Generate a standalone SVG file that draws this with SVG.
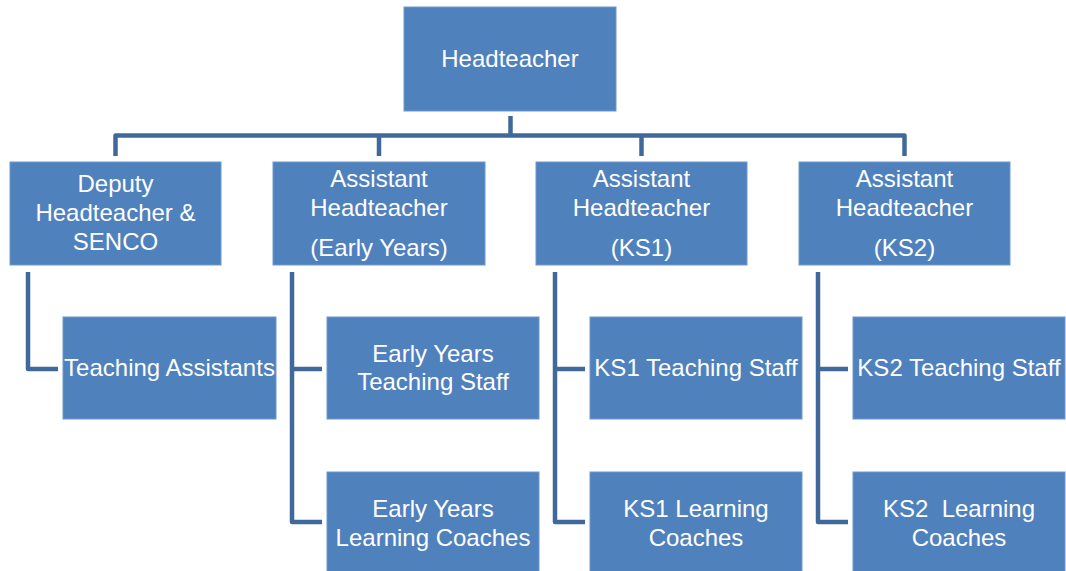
<svg xmlns="http://www.w3.org/2000/svg" width="1066" height="571" viewBox="0 0 1066 571">
<style>
.box{fill:#4F81BD;stroke:#6E97CB;stroke-width:1}
.t{font-family:"Liberation Sans",Arial,sans-serif;font-size:24px;fill:#FFFFFF;text-anchor:middle}
.c{fill:none;stroke:#40699B;stroke-width:4.5;stroke-linejoin:round}
</style>
<rect width="1066" height="571" fill="#FFFFFF"/>
<g id="connectors">
<path class="c" d="M510.5 116V135.5M115.5 156V135.5H904.5V156M379 135.5V156M641.5 135.5V156"/>
<path class="c" d="M28 272V369H58"/>
<path class="c" d="M292 272V522H322M292 369H322"/>
<path class="c" d="M555 272V522H585M555 369H585"/>
<path class="c" d="M818 272V522H848M818 369H848"/>
</g>
<g id="headteacher"><rect class="box" x="404" y="7" width="212" height="104"/><text class="t" x="510" y="67">Headteacher</text></g>
<g id="deputy"><rect class="box" x="10" y="162" width="211" height="103"/><text class="t" x="115.5" y="192">Deputy</text><text class="t" x="115.5" y="221">Headteacher &amp;</text><text class="t" x="115.5" y="250">SENCO</text></g>
<g id="ah-early-years"><rect class="box" x="273" y="162" width="212" height="103"/><text class="t" x="379" y="187">Assistant</text><text class="t" x="379" y="216">Headteacher</text><text class="t" x="379" y="256">(Early Years)</text></g>
<g id="ah-ks1"><rect class="box" x="536" y="162" width="211" height="103"/><text class="t" x="641.5" y="187">Assistant</text><text class="t" x="641.5" y="216">Headteacher</text><text class="t" x="641.5" y="256">(KS1)</text></g>
<g id="ah-ks2"><rect class="box" x="799" y="162" width="211" height="103"/><text class="t" x="904.5" y="187">Assistant</text><text class="t" x="904.5" y="216">Headteacher</text><text class="t" x="904.5" y="256">(KS2)</text></g>
<g id="teaching-assistants"><rect class="box" x="63" y="317" width="213" height="102"/><text class="t" x="169.5" y="376">Teaching Assistants</text></g>
<g id="ey-teaching-staff"><rect class="box" x="327" y="317" width="212" height="102"/><text class="t" x="433" y="362">Early Years</text><text class="t" x="433" y="390">Teaching Staff</text></g>
<g id="ks1-teaching-staff"><rect class="box" x="590" y="317" width="212" height="102"/><text class="t" x="696" y="376">KS1 Teaching Staff</text></g>
<g id="ks2-teaching-staff"><rect class="box" x="853" y="317" width="212" height="102"/><text class="t" x="959" y="376">KS2 Teaching Staff</text></g>
<g id="ey-learning-coaches"><rect class="box" x="327" y="472" width="212" height="110"/><text class="t" x="433" y="517">Early Years</text><text class="t" x="433" y="546">Learning Coaches</text></g>
<g id="ks1-learning-coaches"><rect class="box" x="590" y="472" width="212" height="110"/><text class="t" x="696" y="517">KS1 Learning</text><text class="t" x="696" y="546">Coaches</text></g>
<g id="ks2-learning-coaches"><rect class="box" x="853" y="472" width="212" height="110"/><text class="t" x="959" y="517" xml:space="preserve">KS2  Learning</text><text class="t" x="959" y="546">Coaches</text></g>
</svg>
